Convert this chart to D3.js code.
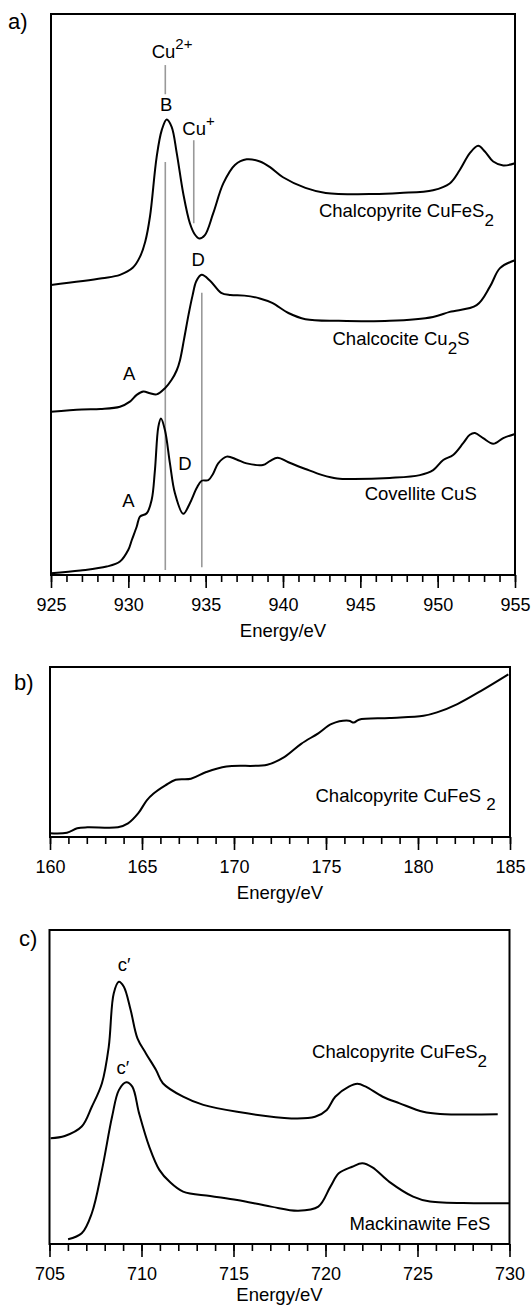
<!DOCTYPE html>
<html lang="en">
<head>
<meta charset="UTF-8">
<title>XANES spectra</title>
<script src="https://d3js.org/d3.v7.min.js"></script>
<style>
    body { margin: 0; background: #fff; }
    svg { display: block; font-family: "Liberation Sans", Arial, sans-serif; }
    .curve { fill: none; stroke: #000; stroke-width: 2px; stroke-linejoin: round; }
    .frame { fill: none; stroke: #000; stroke-width: 2px; }
    .refline { stroke: #999; stroke-width: 1.6px; }
    .axis text { font-size: 18px; fill: #000; font-family: "Liberation Sans", Arial, sans-serif; }
    .axis line { stroke: #000; stroke-width: 1.6px; }
    .lbl { font-size: 18.5px; fill: #000; }
</style>
</head>
<body>
<svg id="chart" width="532" height="1307"></svg>
<script>
// ---- data (energy in eV, intensity in arbitrary units 0-10 per panel) ----
const ticksA = [925, 930, 935, 940, 945, 950, 955];
const ticksB = [160, 165, 170, 175, 180, 185];
const ticksC = [705, 710, 715, 720, 725, 730];

const chalcopyriteCu = [
    [925.0, 5.17], [928.3, 5.29], [929.46, 5.35], [930.3, 5.48], [930.75, 5.67], [931.1, 5.95],
    [931.4, 6.39], [931.83, 7.45], [932.16, 7.93], [932.48, 8.12], [932.8, 7.99], [933.13, 7.52],
    [933.55, 6.80], [933.98, 6.27], [934.3, 6.07], [934.58, 6.0], [934.95, 6.06], [935.49, 6.45],
    [936.14, 6.98], [936.89, 7.31], [937.65, 7.41], [938.51, 7.37], [939.16, 7.27], [940.0, 7.09],
    [941.45, 6.90], [942.76, 6.81], [945.86, 6.79], [947.56, 6.81], [949.7, 6.86], [950.78, 6.98],
    [951.43, 7.22], [952.08, 7.52], [952.62, 7.65], [953.05, 7.55], [953.59, 7.37], [954.24, 7.30],
    [955.0, 7.34]
];
const chalcociteCu = [
    [925.0, 2.91], [927.0, 2.95], [928.2, 2.96], [929.46, 3.0], [930.1, 3.09], [930.54, 3.21],
    [930.97, 3.27], [931.4, 3.24], [931.83, 3.22], [932.37, 3.33], [932.8, 3.48], [933.13, 3.65],
    [933.34, 3.83], [933.6, 4.2], [933.9, 4.65], [934.15, 4.98], [934.4, 5.24], [934.74, 5.35],
    [935.3, 5.24], [936.0, 5.03], [936.6, 4.99], [937.5, 4.98], [938.5, 4.93], [939.3, 4.85],
    [940.35, 4.67], [941.45, 4.56], [943.6, 4.53], [946.9, 4.53], [949.7, 4.60], [950.78, 4.69],
    [952.52, 4.81], [953.38, 5.14], [954.03, 5.47], [955.0, 5.61]
];
const covelliteCu = [
    [925.0, 0.03], [926.9, 0.08], [928.6, 0.15], [929.46, 0.24], [930.0, 0.45], [930.22, 0.62],
    [930.54, 0.86], [930.75, 1.04], [931.19, 1.10], [931.51, 1.34], [931.72, 1.87], [931.94, 2.64],
    [932.11, 2.79], [932.37, 2.58], [932.69, 1.99], [933.01, 1.46], [933.55, 1.09], [933.98, 1.28],
    [934.42, 1.55], [934.74, 1.68], [935.17, 1.69], [935.49, 1.81], [935.81, 1.99], [936.36, 2.11],
    [937.0, 2.06], [937.65, 1.99], [938.7, 1.96], [939.15, 2.03], [939.65, 2.09], [940.35, 2.01],
    [941.45, 1.89], [942.55, 1.78], [943.5, 1.72], [944.5, 1.71], [946.9, 1.73], [948.85, 1.78],
    [949.71, 1.87], [950.36, 2.05], [951.0, 2.14], [951.65, 2.35], [952.08, 2.50], [952.41, 2.53],
    [952.94, 2.44], [953.59, 2.34], [954.24, 2.44], [954.95, 2.51]
];
const chalcopyriteS = [
    [160.0, 0.22], [160.92, 0.25], [161.48, 0.51], [162.03, 0.57], [163.69, 0.57], [164.24, 0.80],
    [164.8, 1.40], [165.26, 2.16], [165.63, 2.56], [166.27, 3.04], [166.83, 3.37], [167.66, 3.43],
    [168.49, 3.82], [169.59, 4.15], [171.81, 4.25], [172.73, 4.70], [173.65, 5.48], [174.58, 6.10],
    [175.31, 6.65], [176.24, 6.84], [176.51, 6.73], [176.79, 6.90], [178.45, 7.00], [180.3, 7.13],
    [181.03, 7.33], [182.14, 7.82], [183.43, 8.60], [184.91, 9.57]
];
const chalcopyriteFe = [
    [705.06, 3.37], [705.83, 3.44], [706.75, 3.74], [707.3, 4.37], [707.85, 5.12], [708.22, 6.28],
    [708.49, 7.98], [708.77, 8.35], [709.04, 8.19], [709.41, 7.45], [709.78, 6.55], [710.24, 6.07],
    [710.79, 5.54], [711.16, 5.12], [712.26, 4.69], [713.36, 4.43], [715.2, 4.21], [718.14, 4.00],
    [719.43, 4.05], [720.07, 4.27], [720.53, 4.69], [721.27, 5.01], [721.73, 5.10], [722.19, 5.01],
    [723.11, 4.69], [724.03, 4.48], [725.31, 4.21], [726.23, 4.14], [729.36, 4.13]
];
const mackinawiteFe = [
    [706.01, 0.15], [706.75, 0.34], [707.3, 0.98], [707.85, 2.36], [708.4, 4.05], [708.77, 4.90],
    [709.17, 5.15], [709.5, 5.01], [709.87, 4.16], [710.42, 3.10], [710.97, 2.36], [711.53, 1.98],
    [712.26, 1.67], [713.73, 1.53], [715.2, 1.40], [717.04, 1.19], [718.51, 1.06], [719.61, 1.19],
    [720.26, 1.82], [720.72, 2.25], [721.45, 2.46], [722.0, 2.57], [722.55, 2.44], [723.47, 1.98],
    [724.76, 1.51], [725.68, 1.35], [728.07, 1.30], [730.0, 1.30]
];
// reference lines in panel a: [energy, y from, y to]
const refLinesA = [
    [932.39, 9.09, 8.57],   // Cu2+ marker
    [934.23, 7.75, 6.27],   // Cu+ marker
    [932.39, 7.36, 0.09],   // B
    [934.75, 5.03, 0.14]    // D
];

const svg = d3.select('#chart');

function panel(cfg) {
    const x = d3.scaleLinear().domain(cfg.xDomain).range([cfg.left, cfg.right]);
    const y = d3.scaleLinear().domain([0, 10]).range([cfg.bottom, cfg.top]);
    const g = svg.append('g');

    // minor ticks
    g.append('g')
        .attr('class', 'axis')
        .attr('transform', `translate(0,${cfg.bottom})`)
        .call(d3.axisBottom(x).tickValues(d3.range(cfg.xDomain[0], cfg.xDomain[1] + 0.5, 1))
            .tickSize(7).tickFormat(''))
        .call(s => s.select('.domain').remove());
    // major ticks
    g.append('g')
        .attr('class', 'axis')
        .attr('transform', `translate(0,${cfg.bottom})`)
        .call(d3.axisBottom(x).tickValues(cfg.ticks).tickSize(13).tickPadding(10).tickFormat(d3.format('d')))
        .call(s => s.select('.domain').remove());

    g.append('rect').attr('class', 'frame')
        .attr('x', cfg.left).attr('y', cfg.top)
        .attr('width', cfg.right - cfg.left).attr('height', cfg.bottom - cfg.top);

    g.append('text').attr('class', 'lbl')
        .attr('x', (cfg.left + cfg.right) / 2).attr('y', cfg.bottom + (cfg.titleGap || 62))
        .attr('text-anchor', 'middle').text('Energy/eV');

    g.append('text').attr('x', cfg.tagX).attr('y', cfg.tagY)
        .style('font-size', '22px').text(cfg.tag);

    const line = d3.line().x(d => x(d[0])).y(d => y(d[1])).curve(d3.curveCatmullRom.alpha(0.5));
    return {g, x, y, line};
}

function label(p, e, v, parts, anchor) {
    const t = p.g.append('text').attr('class', 'lbl')
        .attr('x', p.x(e)).attr('y', p.y(v))
        .attr('text-anchor', anchor || 'start');
    let shift = 0;
    parts.forEach(([s, dy, size]) => {
        const ts = t.append('tspan').text(s).attr('dy', dy - shift);
        if (size) ts.style('font-size', size + 'px');
        shift = dy;
    });
}

// ---- panel a: Cu L-edge ----
const pa = panel({xDomain: [925, 955], ticks: ticksA, left: 51, right: 515, top: 14, bottom: 575,
    tag: 'a)', tagX: 8, tagY: 29});
pa.g.selectAll('.refline').data(refLinesA).enter().append('line')
    .attr('class', 'refline')
    .attr('x1', d => pa.x(d[0])).attr('x2', d => pa.x(d[0]))
    .attr('y1', d => pa.y(d[1])).attr('y2', d => pa.y(d[2]));
[chalcopyriteCu, chalcociteCu, covelliteCu].forEach(s => {
    pa.g.append('path').attr('class', 'curve').attr('d', pa.line(s));
});
label(pa, 931.51, 9.22, [['Cu', 0], ['2+', -9, 15]]);
label(pa, 932.45, 8.27, [['B', 0]], 'middle');
label(pa, 933.49, 7.84, [['Cu', 0], ['+', -9, 15]]);
label(pa, 934.52, 5.50, [['D', 0]], 'middle');
label(pa, 942.32, 6.38, [['Chalcopyrite CuFeS', 0], ['2', 9, 17]]);
label(pa, 943.2, 4.10, [['Chalcocite Cu', 0], ['2', 9, 17], ['S', 0]]);
label(pa, 930.06, 3.48, [['A', 0]], 'middle');
label(pa, 945.28, 1.34, [['Covellite CuS', 0]]);
label(pa, 930.0, 1.22, [['A', 0]], 'middle');
label(pa, 933.66, 1.87, [['D', 0]], 'middle');

// ---- panel b: S L-edge ----
const pb = panel({xDomain: [160, 185], ticks: ticksB, left: 50, right: 510, top: 667, bottom: 837,
    tag: 'b)', tagX: 14, tagY: 690});
pb.g.append('path').attr('class', 'curve').attr('d', pb.line(chalcopyriteS));
label(pb, 174.43, 2.05, [['Chalcopyrite CuFeS\u00a0', 0], ['2', 8, 17]]);

// ---- panel c: Fe L-edge ----
const pc = panel({xDomain: [705, 730], ticks: ticksC, left: 49.5, right: 509.5, top: 930, bottom: 1244,
    tag: 'c)', tagX: 19, tagY: 946, titleGap: 57});
[chalcopyriteFe, mackinawiteFe].forEach(s => {
    pc.g.append('path').attr('class', 'curve').attr('d', pc.line(s));
});
label(pc, 709.05, 8.69, [["c\u2032", 0]], 'middle');
label(pc, 708.99, 5.41, [["c\u2032", 0]], 'middle');
label(pc, 719.27, 5.92, [['Chalcopyrite CuFeS', 0], ['2', 9, 17]]);
label(pc, 721.3, 0.45, [['Mackinawite FeS', 0]]);
</script>
</body>
</html>
